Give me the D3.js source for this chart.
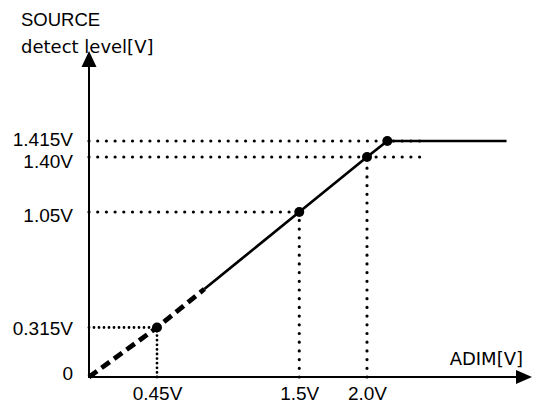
<!DOCTYPE html>
<html>
<head>
<meta charset="utf-8">
<script src="https://cdn.jsdelivr.net/npm/d3@7"></script>
<style>
  html, body { margin: 0; padding: 0; background: #fff; }
  svg { display: block; }
</style>
</head>
<body>
<svg id="chart" width="533" height="403"></svg>
<script>
// ---- data ----
const xTickValues = [0.45, 1.5, 2.0];
const xTickLabels = ["0.45V", "1.5V", "2.0V"];
const yTickValues = [0, 0.315, 1.05, 1.40, 1.415];
const yTickLabels = ["0", "0.315V", "1.05V", "1.40V", "1.415V"];

// characteristic curve (ADIM -> SOURCE detect level)
const dashedX = [0, 0.45, 0.8];
const dashedY = [0, 0.315, 0.56];
const solidX = [0.8, 1.5, 2.0, 2.15, 3.03];
const solidY = [0.56, 1.05, 1.40, 1.415, 1.415];

// marked points
const pointX = [0.45, 1.5, 2.0, 2.15];
const pointY = [0.315, 1.05, 1.40, 1.415];

// guide (dotted) lines: horizontal from y-axis to xEnd, vertical from point down to axis
const guideHY = [0.315, 1.05, 1.40, 1.415];
const guideHXEnd = [0.45, 1.5, 2.45, 2.45];
const guideVX = [0.45, 1.5, 2.0];
const guideVY = [0.315, 1.05, 1.40];

const yTitle1 = "SOURCE";
const yTitle2 = "detect level[V]";
const xTitle = "ADIM[V]";

// ---- layout ----
const yLabelNudge = [-5, 0, 2, 3, -3];
const x = d3.scaleLinear().domain([0, 0.45, 2.0]).range([89, 157, 367]);
const y = d3.scaleLinear().domain([0, 1.40, 1.415]).range([377, 157, 141]);

const svg = d3.select("#chart");
const numFont = "'Liberation Sans', Arial, sans-serif";
const txtFont = "'DejaVu Sans', sans-serif";

// dotted guides
const guides = svg.append("g").attr("fill", "none").attr("stroke", "#000")
  .attr("stroke-linecap", "round");
guideHY.forEach((v, i) => {
  const dense = v < 0.5;
  guides.append("line")
    .attr("x1", x(0)).attr("x2", x(guideHXEnd[i]))
    .attr("y1", y(v)).attr("y2", y(v))
    .attr("stroke-width", dense ? 2.8 : 3.2)
    .attr("stroke-dasharray", dense ? "0 5" : "0 8.7");
});
guideVX.forEach((v, i) => {
  const dense = v < 0.5;
  guides.append("line")
    .attr("x1", x(v)).attr("x2", x(v))
    .attr("y1", y(0)).attr("y2", y(guideVY[i]))
    .attr("stroke-width", dense ? 2.8 : 3.2)
    .attr("stroke-dasharray", dense ? "0 4.6" : "0 8.7");
});

// axes lines with arrowheads
svg.append("line").attr("x1", x(0)).attr("x2", x(0))
  .attr("y1", y(0) + 1).attr("y2", 66)
  .attr("stroke", "#000").attr("stroke-width", 2);
svg.append("path").attr("d", `M${x(0)},51 L${x(0) - 7.5},67 L${x(0) + 7.5},67 Z`).attr("fill", "#000");
svg.append("line").attr("x1", x(0) - 1).attr("x2", 517)
  .attr("y1", y(0)).attr("y2", y(0))
  .attr("stroke", "#000").attr("stroke-width", 2);
svg.append("path").attr("d", `M532,${y(0)} L516,${y(0) - 7} L516,${y(0) + 7} Z`).attr("fill", "#000");

// curve
const line = d3.line().x(d => x(d[0])).y(d => y(d[1]));
svg.append("path")
  .datum(dashedX.map((v, i) => [v, dashedY[i]]))
  .attr("d", line).attr("fill", "none").attr("stroke", "#000")
  .attr("stroke-width", 4.8).attr("stroke-dasharray", "10 5.5");
svg.append("path")
  .datum(solidX.map((v, i) => [v, solidY[i]]))
  .attr("d", line).attr("fill", "none").attr("stroke", "#000")
  .attr("stroke-width", 2.7).attr("stroke-linejoin", "round");

// points
svg.append("g").selectAll("circle")
  .data(pointX.map((v, i) => [v, pointY[i]]))
  .join("circle")
  .attr("cx", d => x(d[0])).attr("cy", d => y(d[1])).attr("r", 5)
  .attr("fill", "#000");

// y tick labels via axis
const yAxis = d3.axisLeft(y).tickValues(yTickValues)
  .tickFormat((d, i) => yTickLabels[i]).tickSize(0).tickPadding(16);
const gy = svg.append("g").attr("transform", `translate(${x(0)},0)`).call(yAxis);
gy.select(".domain").remove();
gy.attr("font-family", numFont).attr("font-size", 19);
gy.selectAll(".tick text").attr("fill", "#000")
  .attr("dy", (d, i) => `${7 + yLabelNudge[i]}px`);

// x tick labels via axis
const xAxis = d3.axisBottom(x).tickValues(xTickValues)
  .tickFormat((d, i) => xTickLabels[i]).tickSize(0);
const gx = svg.append("g").attr("transform", `translate(0,${y(0)})`).call(xAxis);
gx.select(".domain").remove();
gx.attr("font-family", numFont).attr("font-size", 19);
gx.selectAll(".tick text").attr("fill", "#000").attr("dy", null).attr("y", 23);

// titles
svg.append("text").attr("x", 21).attr("y", 26)
  .attr("font-family", numFont).attr("font-size", 18.5).text(yTitle1);
svg.append("text").attr("x", 21).attr("y", 52.5)
  .attr("font-family", txtFont).attr("font-size", 18).text(yTitle2);
svg.append("text").attr("x", 523).attr("y", 365).attr("text-anchor", "end")
  .attr("font-family", txtFont).attr("font-size", 18).text(xTitle);
</script>
</body>
</html>
